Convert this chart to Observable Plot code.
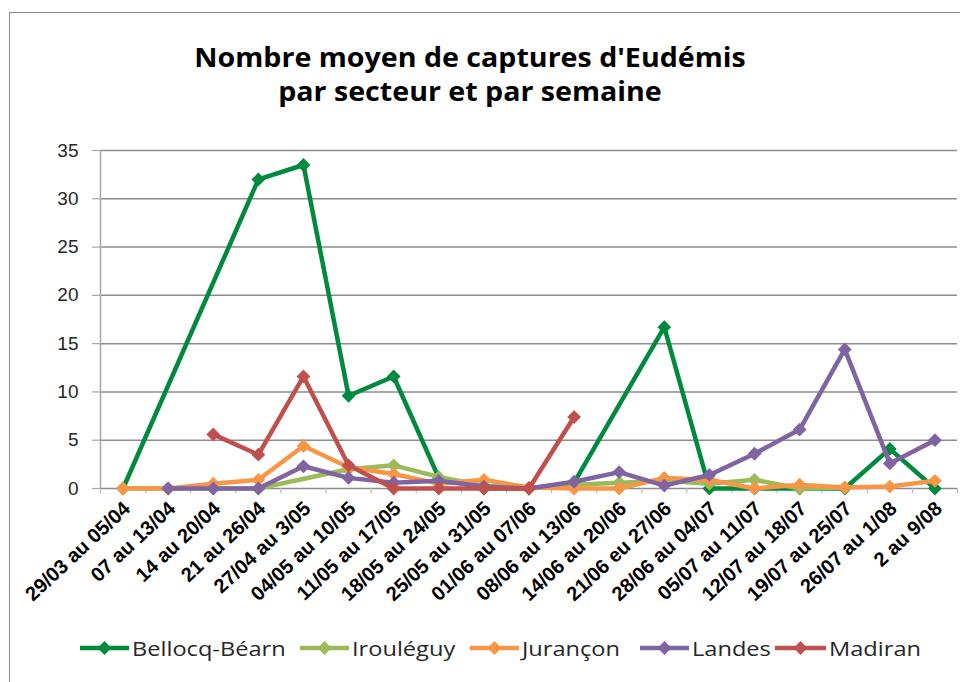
<!DOCTYPE html>
<html>
<head>
<meta charset="utf-8">
<script src="https://cdn.jsdelivr.net/npm/d3@7"></script>
<script src="https://cdn.jsdelivr.net/npm/@observablehq/plot@0.6"></script>
<style>
  html, body { margin:0; padding:0; background:#fff; overflow:hidden; width:960px; height:682px; }
  #frame { position:absolute; left:9px; top:12px; width:1200px; height:1200px; border:1px solid #8a8a8a; pointer-events:none; }
  #title { position:relative; height:140px; width:940px; box-sizing:border-box; padding-top:40px; text-align:center;
           font-family:"Open Sans", "Liberation Sans", sans-serif; font-weight:bold; font-size:26px; line-height:34px; color:#000; }
  #title div { transform:scaleX(1.1); transform-origin:center; }
  #chart { position:relative; height:480px; }
  #legend { position:relative; height:62px; font-family:"Open Sans", "Liberation Sans", sans-serif; font-size:20px; color:#262626; }
  .item { position:absolute; top:14px; height:28px; display:flex; align-items:center; }
  .item svg { display:block; margin-right:3px; }
  .item span { display:inline-block; transform:scaleX(1.18); transform-origin:left center; }
</style>
</head>
<body>
<div id="frame"></div>
<div id="title"><div>Nombre moyen de captures d'Eudémis</div><div>par secteur et par semaine</div></div>
<div id="chart"></div>
<div id="legend"></div>
<script>
const categories = ["29/03 au 05/04","07 au 13/04","14 au 20/04","21 au 26/04","27/04 au 3/05","04/05 au 10/05","11/05 au 17/05","18/05 au 24/05","25/05 au 31/05","01/06 au 07/06","08/06 au 13/06","14/06 au 20/06","21/06 eu 27/06","28/06 au 04/07","05/07 au 11/07","12/07 au 18/07","19/07 au 25/07","26/07 au 1/08","2 au 9/08"];
const seriesNames = ["Bellocq-Béarn","Irouléguy","Jurançon","Landes","Madiran"];
const seriesColors = ["#008a3e","#9bbb59","#f79646","#8064a2","#c0504d"];
const bellocq   = [0, null, null, 32, 33.5, 9.6, 11.6, 1.1, 0, 0, 0.6, null, 16.7, 0, 0, 0, 0, 4.1, 0];
const irouleguy = [0, 0, 0, 0, null, 2.0, 2.4, 1.2, 0.3, 0, 0.4, 0.6, 0.8, 0.5, 0.9, 0, 0.1, null, null];
const jurancon  = [0, 0, 0.5, 0.9, 4.4, 2.2, 1.5, 0.5, 0.9, 0.1, 0, 0, 1.1, 0.9, 0, 0.4, 0.1, 0.2, 0.8];
const landes    = [null, 0, 0, 0, 2.3, 1.1, 0.6, 0.8, 0.2, 0, 0.7, 1.7, 0.3, 1.4, 3.6, 6.1, 14.4, 2.6, 5.0];
const madiran   = [null, null, 5.6, 3.5, 11.6, 2.4, 0, 0, 0, 0, 7.4, null, null, null, null, null, null, null, null];
const yTicks = [0, 5, 10, 15, 20, 25, 30, 35];

const allSeries = [bellocq, irouleguy, jurancon, landes, madiran];
const indices = categories.map((_, i) => i);
const boundaries = d3.range(-0.5, categories.length, 1);

const seriesMarks = allSeries.flatMap((vals, s) => {
  const data = vals.map((v, i) => ({i, v})).filter(d => d.v != null);
  return [
    Plot.line(data, {x: "i", y: "v", stroke: seriesColors[s], strokeWidth: 4.5, strokeLinejoin: "round", strokeLinecap: "round"}),
    Plot.dot(data, {x: "i", y: "v", symbol: "square", rotate: 45, r: 5.5, fill: seriesColors[s], stroke: "none"})
  ];
});

const chart = Plot.plot({
  width: 960, height: 480,
  marginLeft: 100, marginRight: 3, marginTop: 10, marginBottom: 132,
  x: {domain: [-0.5, categories.length - 0.5], axis: null},
  y: {domain: [0, 35], axis: null},
  style: {fontFamily: "'Liberation Sans', sans-serif", background: "transparent"},
  marks: [
    Plot.ruleY(yTicks, {x1: -0.5, x2: categories.length - 0.5, stroke: "#8c8c8c", strokeWidth: 1.5}),
    Plot.ruleY(yTicks, {x1: -0.5 - 8 / 45.1, x2: -0.5, stroke: "#a6a6a6", strokeWidth: 1.2}),
    Plot.ruleX([-0.5], {y1: 0, y2: 35, stroke: "#a6a6a6", strokeWidth: 1.5}),
    Plot.ruleX(boundaries, {y1: 0, y2: -0.55, stroke: "#bbbbbb", strokeWidth: 1.2}),
    Plot.axisY(yTicks, {label: null, tickSize: 0, tickPadding: 22, fontSize: 19, fill: "#262626"}),
    Plot.axisX(indices, {label: null, tickFormat: i => categories[i], tickRotate: -43, tickSize: 0, tickPadding: 17, dx: 4, fontSize: 20, fontWeight: "bold", fill: "#000"}),
    ...seriesMarks
  ]
});
document.getElementById("chart").appendChild(chart);

const legendPos = [[80, 132], [300, 352], [470, 522], [640, 692], [775, 829]];
const legend = document.getElementById("legend");
seriesNames.forEach((name, s) => {
  const item = document.createElement("div");
  item.className = "item";
  item.style.left = legendPos[s][0] + "px";
  const w = legendPos[s][1] - legendPos[s][0] - 3;
  item.innerHTML = `<svg width="${w}" height="20"><line x1="0" x2="${w}" y1="10" y2="10" stroke="${seriesColors[s]}" stroke-width="4.5"/>` +
    `<rect x="${w/2 - 4.9}" y="${10 - 4.9}" width="9.8" height="9.8" fill="${seriesColors[s]}" transform="rotate(45 ${w/2} 10)"/></svg><span>${name}</span>`;
  legend.appendChild(item);
});
</script>
</body>
</html>
